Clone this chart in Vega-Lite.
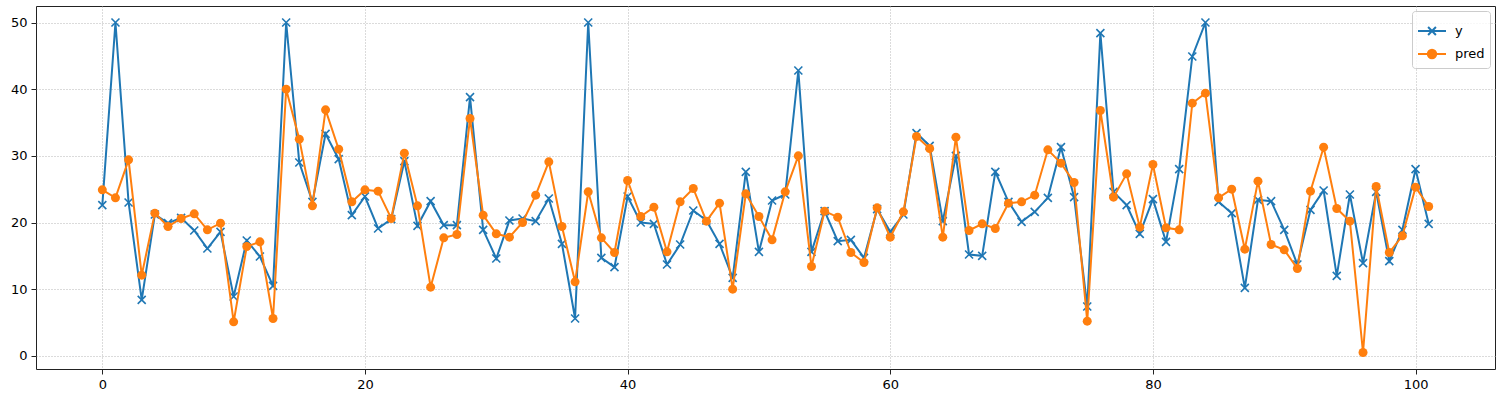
{
  "$schema": "https://vega.github.io/schema/vega-lite/v6.json",
  "autosize": "none",
  "width": 1459,
  "height": 363,
  "padding": {"left": 36, "top": 6, "right": 8, "bottom": 33},
  "background": "white",
  "config": {
    "font": "DejaVu Sans",
    "view": {"stroke": "#222222", "strokeWidth": 1},
    "axis": {
      "domain": false,
      "tickColor": "#222222",
      "tickSize": 5,
      "tickWidth": 1,
      "labelFont": "DejaVu Sans",
      "labelFontSize": 13,
      "labelColor": "black",
      "labelPadding": 4,
      "grid": true,
      "gridColor": "#b0b0b0",
      "gridOpacity": 0.9,
      "gridDash": [1, 2],
      "gridWidth": 1,
      "title": null
    }
  },
  "data": {
    "values": [
      {"i": 0, "y": 22.6, "pred": 24.9},
      {"i": 1, "y": 50.0, "pred": 23.7},
      {"i": 2, "y": 23.0, "pred": 29.4},
      {"i": 3, "y": 8.4, "pred": 12.1},
      {"i": 4, "y": 21.2, "pred": 21.4},
      {"i": 5, "y": 19.9, "pred": 19.4},
      {"i": 6, "y": 20.7, "pred": 20.6},
      {"i": 7, "y": 18.8, "pred": 21.3},
      {"i": 8, "y": 16.1, "pred": 18.9},
      {"i": 9, "y": 18.6, "pred": 19.9},
      {"i": 10, "y": 8.9, "pred": 5.1},
      {"i": 11, "y": 17.3, "pred": 16.4},
      {"i": 12, "y": 14.9, "pred": 17.1},
      {"i": 13, "y": 10.5, "pred": 5.6},
      {"i": 14, "y": 50.0, "pred": 40.0},
      {"i": 15, "y": 29.0, "pred": 32.5},
      {"i": 16, "y": 23.1, "pred": 22.5},
      {"i": 17, "y": 33.3, "pred": 36.9},
      {"i": 18, "y": 29.5, "pred": 31.0},
      {"i": 19, "y": 21.1, "pred": 23.1},
      {"i": 20, "y": 23.9, "pred": 24.9},
      {"i": 21, "y": 19.1, "pred": 24.7},
      {"i": 22, "y": 20.5, "pred": 20.6},
      {"i": 23, "y": 29.2, "pred": 30.4},
      {"i": 24, "y": 19.5, "pred": 22.5},
      {"i": 25, "y": 23.2, "pred": 10.3},
      {"i": 26, "y": 19.6, "pred": 17.7},
      {"i": 27, "y": 19.6, "pred": 18.2},
      {"i": 28, "y": 38.8, "pred": 35.6},
      {"i": 29, "y": 18.9, "pred": 21.1},
      {"i": 30, "y": 14.6, "pred": 18.3},
      {"i": 31, "y": 20.3, "pred": 17.8},
      {"i": 32, "y": 20.6, "pred": 20.0},
      {"i": 33, "y": 20.2, "pred": 24.1},
      {"i": 34, "y": 23.6, "pred": 29.1},
      {"i": 35, "y": 16.8, "pred": 19.4},
      {"i": 36, "y": 5.6, "pred": 11.1},
      {"i": 37, "y": 50.0, "pred": 24.6},
      {"i": 38, "y": 14.7, "pred": 17.7},
      {"i": 39, "y": 13.3, "pred": 15.5},
      {"i": 40, "y": 23.9, "pred": 26.3},
      {"i": 41, "y": 20.0, "pred": 20.9},
      {"i": 42, "y": 19.8, "pred": 22.3},
      {"i": 43, "y": 13.7, "pred": 15.6},
      {"i": 44, "y": 16.7, "pred": 23.1},
      {"i": 45, "y": 21.8, "pred": 25.1},
      {"i": 46, "y": 20.3, "pred": 20.2},
      {"i": 47, "y": 16.8, "pred": 22.9},
      {"i": 48, "y": 11.7, "pred": 10.0},
      {"i": 49, "y": 27.6, "pred": 24.3},
      {"i": 50, "y": 15.6, "pred": 20.9},
      {"i": 51, "y": 23.3, "pred": 17.4},
      {"i": 52, "y": 24.2, "pred": 24.6},
      {"i": 53, "y": 42.8, "pred": 30.0},
      {"i": 54, "y": 15.6, "pred": 13.4},
      {"i": 55, "y": 21.7, "pred": 21.7},
      {"i": 56, "y": 17.2, "pred": 20.8},
      {"i": 57, "y": 17.4, "pred": 15.5},
      {"i": 58, "y": 14.7, "pred": 14.0},
      {"i": 59, "y": 22.0, "pred": 22.2},
      {"i": 60, "y": 18.6, "pred": 17.8},
      {"i": 61, "y": 21.2, "pred": 21.6},
      {"i": 62, "y": 33.4, "pred": 32.9},
      {"i": 63, "y": 31.5, "pred": 31.1},
      {"i": 64, "y": 20.2, "pred": 17.8},
      {"i": 65, "y": 30.0, "pred": 32.8},
      {"i": 66, "y": 15.2, "pred": 18.8},
      {"i": 67, "y": 15.0, "pred": 19.8},
      {"i": 68, "y": 27.6, "pred": 19.1},
      {"i": 69, "y": 23.1, "pred": 22.9},
      {"i": 70, "y": 20.1, "pred": 23.1},
      {"i": 71, "y": 21.6, "pred": 24.1},
      {"i": 72, "y": 23.7, "pred": 30.9},
      {"i": 73, "y": 31.3, "pred": 28.9},
      {"i": 74, "y": 23.8, "pred": 26.0},
      {"i": 75, "y": 7.4, "pred": 5.2},
      {"i": 76, "y": 48.4, "pred": 36.8},
      {"i": 77, "y": 24.6, "pred": 23.8},
      {"i": 78, "y": 22.6, "pred": 27.3},
      {"i": 79, "y": 18.3, "pred": 19.3},
      {"i": 80, "y": 23.5, "pred": 28.7},
      {"i": 81, "y": 17.1, "pred": 19.2},
      {"i": 82, "y": 28.0, "pred": 18.9},
      {"i": 83, "y": 44.9, "pred": 37.9},
      {"i": 84, "y": 50.0, "pred": 39.4},
      {"i": 85, "y": 23.1, "pred": 23.7},
      {"i": 86, "y": 21.4, "pred": 25.0},
      {"i": 87, "y": 10.2, "pred": 16.0},
      {"i": 88, "y": 23.4, "pred": 26.2},
      {"i": 89, "y": 23.2, "pred": 16.7},
      {"i": 90, "y": 18.9, "pred": 15.9},
      {"i": 91, "y": 13.7, "pred": 13.1},
      {"i": 92, "y": 21.9, "pred": 24.7},
      {"i": 93, "y": 24.8, "pred": 31.3},
      {"i": 94, "y": 12.0, "pred": 22.1},
      {"i": 95, "y": 24.2, "pred": 20.2},
      {"i": 96, "y": 13.9, "pred": 0.5},
      {"i": 97, "y": 24.6, "pred": 25.4},
      {"i": 98, "y": 14.2, "pred": 15.5},
      {"i": 99, "y": 18.9, "pred": 18.0},
      {"i": 100, "y": 28.0, "pred": 25.3},
      {"i": 101, "y": 19.8, "pred": 22.4}
    ]
  },
  "encoding": {
    "x": {
      "field": "i",
      "type": "quantitative",
      "scale": {"domain": [-5.05, 106.05], "nice": false, "zero": false},
      "axis": {"values": [0, 20, 40, 60, 80, 100], "title": null}
    }
  },
  "layer": [
    {
      "mark": {"type": "line", "strokeWidth": 2},
      "encoding": {
        "y": {
          "field": "y",
          "type": "quantitative",
          "scale": {"domain": [-1.975, 52.475], "nice": false, "zero": false},
          "axis": {"values": [0, 10, 20, 30, 40, 50], "title": null}
        },
        "color": {
          "datum": "y",
          "type": "nominal",
          "scale": {"domain": ["y", "pred"], "range": ["#1f77b4", "#ff7f0e"]},
          "legend": {
            "title": null,
            "orient": "top-right",
            "offset": 5,
            "padding": 5,
            "strokeColor": "#cccccc",
            "fillColor": "rgba(255,255,255,0.8)",
            "cornerRadius": 3,
            "labelFont": "DejaVu Sans",
            "labelFontSize": 13,
            "labelColor": "black",
            "labelOffset": 8,
            "symbolSize": 784,
            "symbolStrokeWidth": 2,
            "rowPadding": 0,
            "encode": {
              "symbols": {
                "update": {
                  "shape": {"signal": "datum.value === 'y' ? 'M-1,0L1,0M-0.28,-0.28L0.28,0.28M0.28,-0.28L-0.28,0.28' : 'M-1,0L1,0M-0.3,0A0.3,0.3,0,1,1,0.3,0A0.3,0.3,0,1,1,-0.3,0Z'"},
                  "fill": {"signal": "datum.value === 'y' ? 'transparent' : '#ff7f0e'"},
                  "stroke": {"signal": "datum.value === 'y' ? '#1f77b4' : '#ff7f0e'"},
                  "strokeWidth": {"value": 2},
                  "opacity": {"value": 1}
                }
              }
            }
          }
        }
      }
    },
    {
      "mark": {"type": "point", "shape": "M-1,-1L1,1M1,-1L-1,1", "filled": false, "stroke": "#1f77b4", "strokeWidth": 1.6, "size": 64, "opacity": 1},
      "encoding": {
        "y": {"field": "y", "type": "quantitative"}
      }
    },
    {
      "mark": {"type": "line", "strokeWidth": 2},
      "encoding": {
        "y": {"field": "pred", "type": "quantitative"},
        "color": {"datum": "pred", "type": "nominal"}
      }
    },
    {
      "mark": {"type": "point", "shape": "circle", "filled": true, "fill": "#ff7f0e", "size": 81, "opacity": 1},
      "encoding": {
        "y": {"field": "pred", "type": "quantitative"}
      }
    }
  ]
}
